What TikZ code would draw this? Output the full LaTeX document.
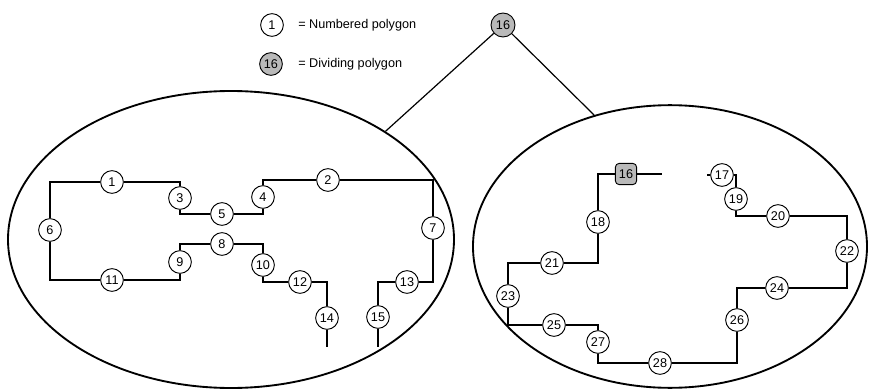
\documentclass[tikz,border=0pt]{standalone}
\usepackage{fontspec}
\setmainfont{Liberation Sans}
\usetikzlibrary{shapes.geometric}
\begin{document}
\begin{tikzpicture}[x=0.75pt,y=-0.75pt,
  num/.style={circle,draw,line width=0.7pt,fill=white,minimum size=17pt,inner sep=0pt,font=\fontsize{9.5}{10}\selectfont},
  divc/.style={num,fill=gray!55},
  divbox/.style={rectangle,rounded corners=3pt,draw,line width=0.7pt,fill=gray!55,minimum size=16pt,inner sep=0pt,font=\fontsize{9.5}{10}\selectfont},
  path/.style={line width=1.5pt},
  thinpath/.style={line width=0.9pt},
  region/.style={ellipse,draw,line width=1.4pt,inner sep=0pt},
  link/.style={line width=0.9pt},
  legend/.style={anchor=west,font=\fontsize{9.5}{11}\selectfont,inner sep=0pt}]
\useasboundingbox (0,0) rectangle (869,389);

% the two regions
\node[region,minimum width=334.5pt,minimum height=222.75pt] (L) at (231,239.5) {};
\node[region,minimum width=295.5pt,minimum height=212pt] (R) at (670,246.5) {};

% legend
\node[num] (k1) at (272,25) {1};
\node[legend] (t1) at (298,25) {= Numbered polygon};
\node[divc] (k16) at (271,64) {16};
\node[legend] (t16) at (298,64) {= Dividing polygon};

% dividing polygon above both regions
\node[divc,minimum size=18pt] (top) at (503,25) {16};
\draw[link] (top) -- (L.35);
\draw[link] (top) -- (R.120);

% left region polygons
\node[num] (n1) at (112,182) {1};
\node[num] (n2) at (328,180) {2};
\node[num] (n3) at (180,198) {3};
\node[num] (n4) at (263,197) {4};
\node[num] (n5) at (222,214) {5};
\node[num] (n6) at (50,230) {6};
\node[num] (n7) at (433,228) {7};
\node[num] (n8) at (222,244) {8};
\node[num] (n9) at (180,262) {9};
\node[num] (n10) at (263,265) {10};
\node[num] (n11) at (112,280) {11};
\node[num] (n12) at (300,282) {12};
\node[num] (n13) at (407,282) {13};
\node[num] (n14) at (327,318) {14};
\node[num] (n15) at (378,317) {15};
\coordinate (e14) at (327,347);
\coordinate (e15) at (378,347);

\draw[path] (n6) |- (n1);
\draw[path] (n1) -| (n3);
\draw[thinpath] (n3) |- (n5);
\draw[thinpath] (n5) -| (n4);
\draw[path] (n4) |- (n2);
\draw[path] (n2) -| (n7);
\draw[path] (n7) |- (n13);
\draw[path] (n13) -| (n15);
\draw[path] (n15) -- (e15);
\draw[path] (n6) |- (n11);
\draw[path] (n11) -| (n9);
\draw[thinpath] (n9) |- (n8);
\draw[thinpath] (n8) -| (n10);
\draw[path] (n10) |- (n12);
\draw[path] (n12) -| (n14);
\draw[path] (n14) -- (e14);

% right region polygons
\node[divbox] (d16) at (626,174) {16};
\node[num] (n17) at (722,175) {17};
\node[num] (n18) at (598,222) {18};
\node[num] (n19) at (736,199) {19};
\node[num] (n20) at (778,216) {20};
\node[num] (n21) at (552,263) {21};
\node[num] (n22) at (847,251) {22};
\node[num] (n23) at (508,296) {23};
\node[num] (n24) at (777,288) {24};
\node[num] (n25) at (554,325) {25};
\node[num] (n26) at (737,320) {26};
\node[num] (n27) at (598,342) {27};
\node[num] (n28) at (660,363) {28};
\coordinate (e16) at (662,174);
\coordinate (s17) at (707,175);

\draw[thinpath] (d16) -- (e16);
\draw[path] (d16) -| (n18);
\draw[path] (n18) |- (n21);
\draw[path] (n21) -| (n23);
\draw[thinpath] (n23) |- (n25);
\draw[thinpath] (n25) -| (n27);
\draw[path] (n27) |- (n28);
\draw[path] (n28) -| (n26);
\draw[path] (n26) |- (n24);
\draw[path] (n24) -| (n22);
\draw[path] (n22) |- (n20);
\draw[path] (n20) -| (n19);
\draw[thinpath] (n19) |- (n17);
\draw[thinpath] (n17) -- (s17);
\end{tikzpicture}
\end{document}
